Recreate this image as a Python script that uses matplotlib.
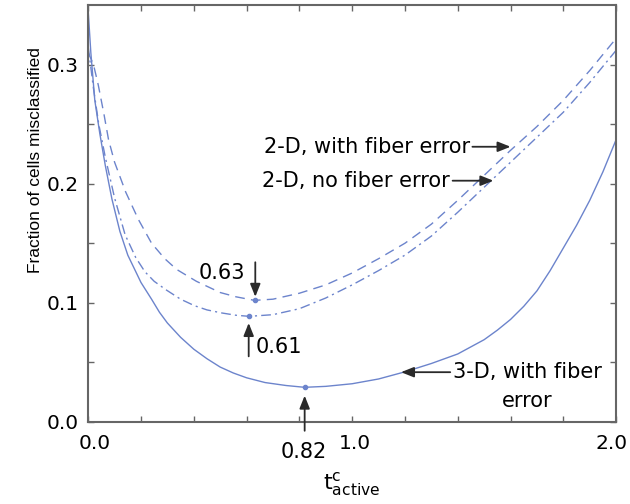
import numpy as np
import matplotlib.pyplot as plt
import matplotlib.transforms as mtransforms

plt.rcParams['font.family'] = ['DejaVu Sans']

# 3-D, with fiber error (solid)
x_3d = [0.0, 0.01, 0.025, 0.044, 0.065, 0.09, 0.12, 0.15, 0.2, 0.24, 0.27, 0.3, 0.35,
        0.4, 0.45, 0.5, 0.55, 0.6, 0.67, 0.75, 0.82, 0.9, 1.0, 1.1, 1.2, 1.3, 1.4,
        1.45, 1.5, 1.55, 1.6, 1.65, 1.7, 1.75, 1.8, 1.85, 1.9, 1.95, 2.0]
y_3d = [0.345, 0.31, 0.27, 0.242, 0.215, 0.187, 0.16, 0.14, 0.117, 0.103, 0.092, 0.083,
        0.071, 0.061, 0.053, 0.046, 0.041, 0.037, 0.033, 0.0305, 0.029, 0.0298, 0.032,
        0.036, 0.042, 0.049, 0.057, 0.063, 0.069, 0.077, 0.086, 0.097, 0.110, 0.127,
        0.146, 0.165, 0.186, 0.21, 0.237]

# 2-D, with fiber error (dashed)
x_2d_f = [0.0, 0.02, 0.038, 0.06, 0.077, 0.1, 0.142, 0.19, 0.24, 0.29, 0.335, 0.41,
          0.5, 0.56, 0.63, 0.7, 0.8, 0.9, 1.0, 1.1, 1.2, 1.3, 1.4, 1.5, 1.6, 1.7,
          1.8, 1.9, 2.0]
y_2d_f = [0.31, 0.3, 0.283, 0.258, 0.237, 0.218, 0.193, 0.17, 0.150, 0.137, 0.128, 0.118,
          0.1086, 0.105, 0.102, 0.103, 0.108, 0.115, 0.125, 0.137, 0.150, 0.166, 0.186,
          0.207, 0.228, 0.248, 0.27, 0.295, 0.322]

# 2-D, no fiber error (dash-dot)
x_2d_n = [0.0, 0.02, 0.04, 0.065, 0.1, 0.14, 0.18, 0.215, 0.25, 0.294, 0.35, 0.403,
          0.45, 0.507, 0.56, 0.61, 0.7, 0.8, 0.9, 1.0, 1.1, 1.2, 1.3, 1.4, 1.5, 1.6,
          1.7, 1.8, 1.9, 2.0]
y_2d_n = [0.315, 0.28, 0.25, 0.222, 0.188, 0.157, 0.138, 0.126, 0.118, 0.111, 0.103,
          0.0975, 0.094, 0.0914, 0.0895, 0.0886, 0.090, 0.095, 0.104, 0.115, 0.127,
          0.140, 0.156, 0.176, 0.197, 0.218, 0.239, 0.26, 0.285, 0.312]

# minima
min_x = [0.82, 0.63, 0.61]
min_y = [0.029, 0.102, 0.0886]

xtick_pos = [0.0, 0.2, 0.4, 0.6, 0.8, 1.0, 1.2, 1.4, 1.6, 1.8, 2.0]
xtick_lab = ['0.0', '', '', '', '', '1.0', '', '', '', '', '2.0']
ytick_pos = [0.0, 0.05, 0.1, 0.15, 0.2, 0.25, 0.3]
ytick_lab = ['0.0', '', '0.1', '', '0.2', '', '0.3']

blue = '#6c84cc'
dark = '#2a2a2a'

fig = plt.figure(figsize=(6.3, 5.04), dpi=100)
ax = fig.add_axes([0.140, 0.163, 0.838, 0.827])

ax.plot(x_3d, y_3d, color=blue, lw=1.0)
ax.plot(x_2d_f, y_2d_f, color=blue, lw=1.0, ls=(0, (7, 4.5)))
ax.plot(x_2d_n, y_2d_n, color=blue, lw=1.0, ls=(0, (7, 3, 1.5, 3)))
ax.plot(min_x, min_y, 'o', color=blue, ms=3)

ax.set_xlim(0, 2.0)
ax.set_ylim(0, 0.35)
ax.set_xticks(xtick_pos)
ax.set_xticklabels(xtick_lab)
ax.set_yticks(ytick_pos)
ax.set_yticklabels(ytick_lab)
ax.tick_params(direction='in', top=True, right=True, length=4, width=1,
               color='#666666', labelsize=14.5)
ax.tick_params(axis='x', pad=9)
ax.tick_params(axis='y', pad=7)
for s in ax.spines.values():
    s.set_color('#666666')
    s.set_linewidth(1.5)

# nudge the x tick labels a little, as in the original
shifts = {'0.0': 6, '1.0': 3, '2.0': -5}
for lab in ax.get_xticklabels():
    dx = shifts.get(lab.get_text(), 0)
    if dx:
        lab.set_transform(lab.get_transform() +
                          mtransforms.ScaledTranslation(dx / 100, 0, fig.dpi_scale_trans))

ax.set_ylabel('Fraction of cells misclassified', fontsize=12.5, family='Liberation Sans')
ax.yaxis.set_label_coords(-0.086, 0.628)
ax.set_xlabel(r'$\mathregular{t^c_{active}}$', fontsize=16, labelpad=12)

arrow = dict(arrowstyle='-|>,head_length=0.55,head_width=0.22', color=dark, lw=1.3,
             mutation_scale=14, shrinkA=0, shrinkB=0)
fs = 15

ax.annotate('2-D, with fiber error', xy=(1.60, 0.231), xytext=(1.445, 0.231),
            ha='right', va='center', fontsize=fs, arrowprops=arrow)
ax.annotate('2-D, no fiber error', xy=(1.535, 0.2025), xytext=(1.37, 0.2025),
            ha='right', va='center', fontsize=fs, arrowprops=arrow)
ax.annotate('3-D, with fiber', xy=(1.185, 0.0417), xytext=(1.382, 0.0417),
            ha='left', va='center', fontsize=fs, arrowprops=arrow)
ax.text(1.664, 0.0175, 'error', ha='center', va='center', fontsize=fs)

ax.annotate('', xy=(0.633, 0.105), xytext=(0.633, 0.134), arrowprops=arrow)
ax.text(0.595, 0.125, '0.63', ha='right', va='center', fontsize=fs)
ax.annotate('', xy=(0.608, 0.083), xytext=(0.608, 0.055), arrowprops=arrow)
ax.text(0.633, 0.063, '0.61', ha='left', va='center', fontsize=fs)
ax.annotate('', xy=(0.82, 0.022), xytext=(0.82, -0.0075), arrowprops=arrow,
            annotation_clip=False)
ax.text(0.815, -0.025, '0.82', ha='center', va='center', fontsize=fs)

fig.savefig('out.png', dpi=100)
